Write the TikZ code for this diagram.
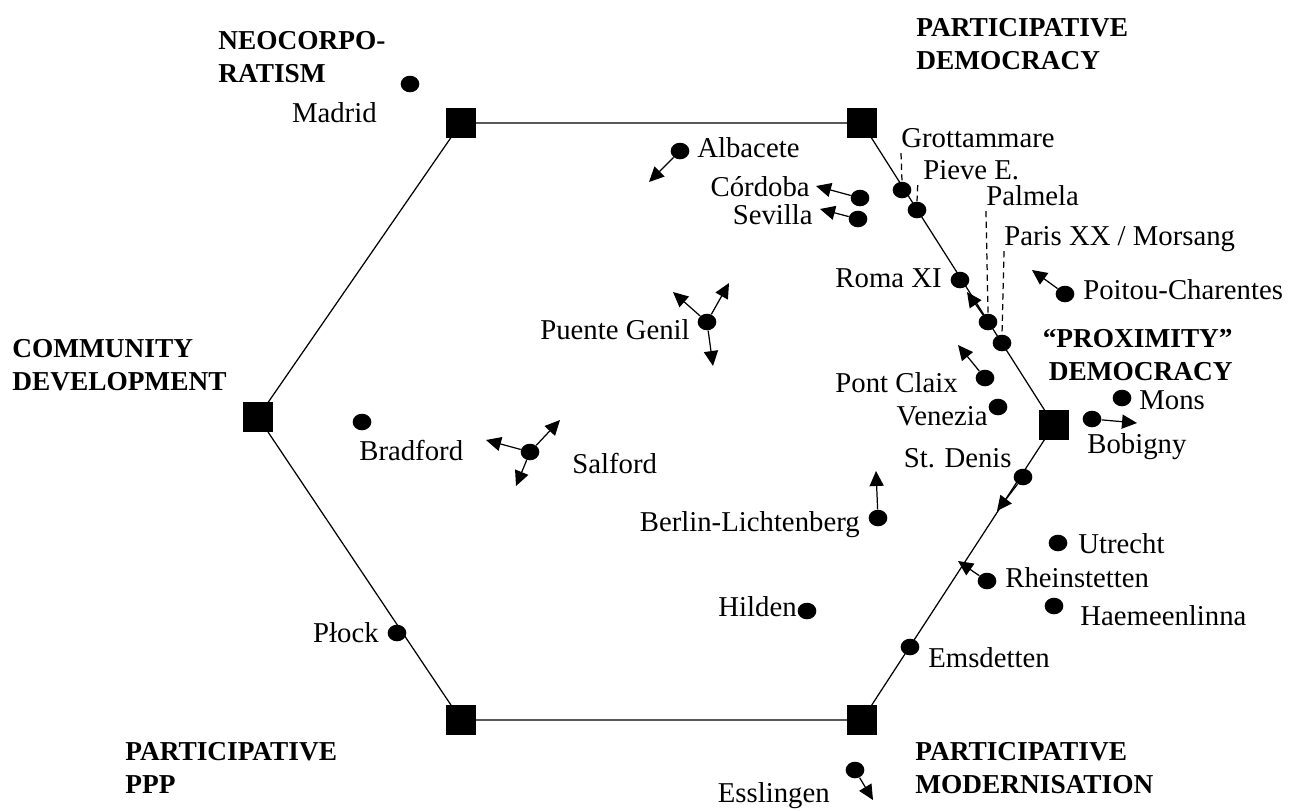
\documentclass[tikz,border=0pt]{standalone}
\usepackage{fontspec}
\setmainfont{Liberation Serif}
\usetikzlibrary{arrows.meta, shapes.geometric}

\begin{document}
\begin{tikzpicture}[x=0.567pt, y=-0.567pt,
  corner/.style={rectangle, fill, minimum size=17pt, inner sep=0pt},
  city/.style={ellipse, fill, minimum width=10.6pt, minimum height=9.4pt, inner sep=0pt},
  lbl/.style={inner sep=0pt, font=\fontsize{16.3}{18}\selectfont, text height=11.5pt, text depth=3pt},
  head/.style={inner sep=0pt, align=left, font=\fontsize{15.5}{18.5}\selectfont\bfseries},
  e/.style={-{Triangle[length=8.5pt, width=8pt]}, line width=0.7pt},
  lead/.style={dash pattern=on 3.5pt off 2.5pt, line width=0.7pt}]
  \useasboundingbox (0,0) rectangle (1292,810);

  % the six poles
  \node[corner] (tl) at (461,123) {};
  \node[corner] (tr) at (862,123) {};
  \node[corner] (rt) at (1054,425) {};
  \node[corner] (br) at (862,720) {};
  \node[corner] (bl) at (461,720) {};
  \node[corner] (lt) at (258,417) {};
  \draw[line width=0.7pt] (tl.center) -- (tr.center) -- (rt.center) -- (br.center)
    -- (bl.center) -- (lt.center) -- cycle;

  \node[head, anchor=west] (neo) at (218,57) {NEOCORPO-\\RATISM};
  \node[head, anchor=west] (pdem) at (916,44) {PARTICIPATIVE\\DEMOCRACY};
  \node[head, anchor=west] (comm) at (12,365) {COMMUNITY\\DEVELOPMENT};
  \node[head, anchor=east, align=right] (prox) at (1233,355) {“PROXIMITY”\\DEMOCRACY};
  \node[head, anchor=west] (ppp) at (125,768) {PARTICIPATIVE\\PPP};
  \node[head, anchor=west] (pmod) at (915,768) {PARTICIPATIVE\\MODERNISATION};

  % cities
  \node[city] (mad) at (410,84) {};
  \node[lbl, anchor=east] (madL) at (377,115) {Madrid};
  \node[city] (alb) at (680,151) {};
  \node[lbl, anchor=west] (albL) at (697,150) {Albacete};
  \node[city] (cor) at (860,198) {};
  \node[lbl, anchor=east] (corL) at (810,189) {Córdoba};
  \node[city] (sev) at (858,219) {};
  \node[lbl, anchor=east] (sevL) at (813,217) {Sevilla};
  \node[city] (gro) at (902,190) {};
  \node[lbl, anchor=west] (groL) at (901,140) {Grottammare};
  \node[city] (pie) at (917,210) {};
  \node[lbl, anchor=west] (pieL) at (923,172) {Pieve E.};
  \node[city] (pal) at (988,322) {};
  \node[lbl, anchor=west] (palL) at (986,198) {Palmela};
  \node[city] (par) at (1002,343) {};
  \node[lbl, anchor=west] (parL) at (1004,238) {Paris XX / Morsang};
  \node[city] (rom) at (960,280) {};
  \node[lbl, anchor=east] (romL) at (942,280) {Roma XI};
  \node[city] (poi) at (1065,294) {};
  \node[lbl, anchor=west] (poiL) at (1083,292) {Poitou-Charentes};
  \node[city] (pue) at (707,322) {};
  \node[lbl, anchor=east] (pueL) at (690,332) {Puente Genil};
  \node[city] (pon) at (985,378) {};
  \node[lbl, anchor=east] (ponL) at (958,385) {Pont Claix};
  \node[city] (ven) at (998,407) {};
  \node[lbl, anchor=east] (venL) at (988,418) {Venezia};
  \node[city] (mon) at (1122,398) {};
  \node[lbl, anchor=west] (monL) at (1139,402) {Mons};
  \node[city] (bob) at (1092,419) {};
  \node[lbl, anchor=west] (bobL) at (1087,446) {Bobigny};
  \node[city] (std) at (1023,477) {};
  \node[lbl, anchor=east] (stdL) at (1012,460) {St. Denis};
  \node[city] (ber) at (878,518) {};
  \node[lbl, anchor=east] (berL) at (860,524) {Berlin-Lichtenberg};
  \node[city] (utr) at (1058,543) {};
  \node[lbl, anchor=west] (utrL) at (1078,546) {Utrecht};
  \node[city] (rhe) at (987,581) {};
  \node[lbl, anchor=west] (rheL) at (1005,580) {Rheinstetten};
  \node[city] (hae) at (1054,606) {};
  \node[lbl, anchor=west] (haeL) at (1080,618) {Haemeenlinna};
  \node[city] (ems) at (910,647) {};
  \node[lbl, anchor=west] (emsL) at (928,660) {Emsdetten};
  \node[city] (hil) at (807,611) {};
  \node[lbl, anchor=east] (hilL) at (797,609) {Hilden};
  \node[city] (bra) at (362,422) {};
  \node[lbl, anchor=west] (braL) at (359,453) {Bradford};
  \node[city] (sal) at (530,452) {};
  \node[lbl, anchor=west] (salL) at (572,466) {Salford};
  \node[city] (plo) at (397,633) {};
  \node[lbl, anchor=east] (ploL) at (379,635) {Płock};
  \node[city] (ess) at (855,770) {};
  \node[lbl, anchor=east] (essL) at (830,795) {Esslingen};

  % leaders
  \draw[lead] (groL.south west) -- (gro.north);
  \draw[lead] ([xshift=-3pt]pieL.south west) -- (pie.north);
  \draw[lead] (palL.south west) -- (pal.north);
  \draw[lead] (parL.south west) -- (par.north);

  % movements
  \coordinate (albT) at (649,182);
  \coordinate (corT) at (816,186);
  \coordinate (sevT) at (820,209);
  \coordinate (palT) at (967,292);
  \coordinate (poiT) at (1032,270);
  \coordinate (pueT1) at (673,292);
  \coordinate (pueT2) at (729,283);
  \coordinate (pueT3) at (713,366);
  \coordinate (ponT) at (958,345);
  \coordinate (bobT) at (1137,423);
  \coordinate (stdT) at (997,511);
  \coordinate (berT) at (876,471);
  \coordinate (rheT) at (958,561);
  \coordinate (salT1) at (486,440);
  \coordinate (salT2) at (560,420);
  \coordinate (salT3) at (516,486);
  \coordinate (essT) at (873,800);
  \draw[e] (alb) -- (albT);
  \draw[e] (cor) -- (corT);
  \draw[e] (sev) -- (sevT);
  \draw[e] (pal) -- (palT);
  \draw[e] (poi) -- (poiT);
  \draw[e] (pue) -- (pueT1);
  \draw[e] (pue) -- (pueT2);
  \draw[e] (pue) -- (pueT3);
  \draw[e] (pon) -- (ponT);
  \draw[e] (bob) -- (bobT);
  \draw[e] (std) -- (stdT);
  \draw[e] (ber) -- (berT);
  \draw[e] (rhe) -- (rheT);
  \draw[e] (sal) -- (salT1);
  \draw[e] (sal) -- (salT2);
  \draw[e] (sal) -- (salT3);
  \draw[e] (ess) -- (essT);
\end{tikzpicture}
\end{document}
